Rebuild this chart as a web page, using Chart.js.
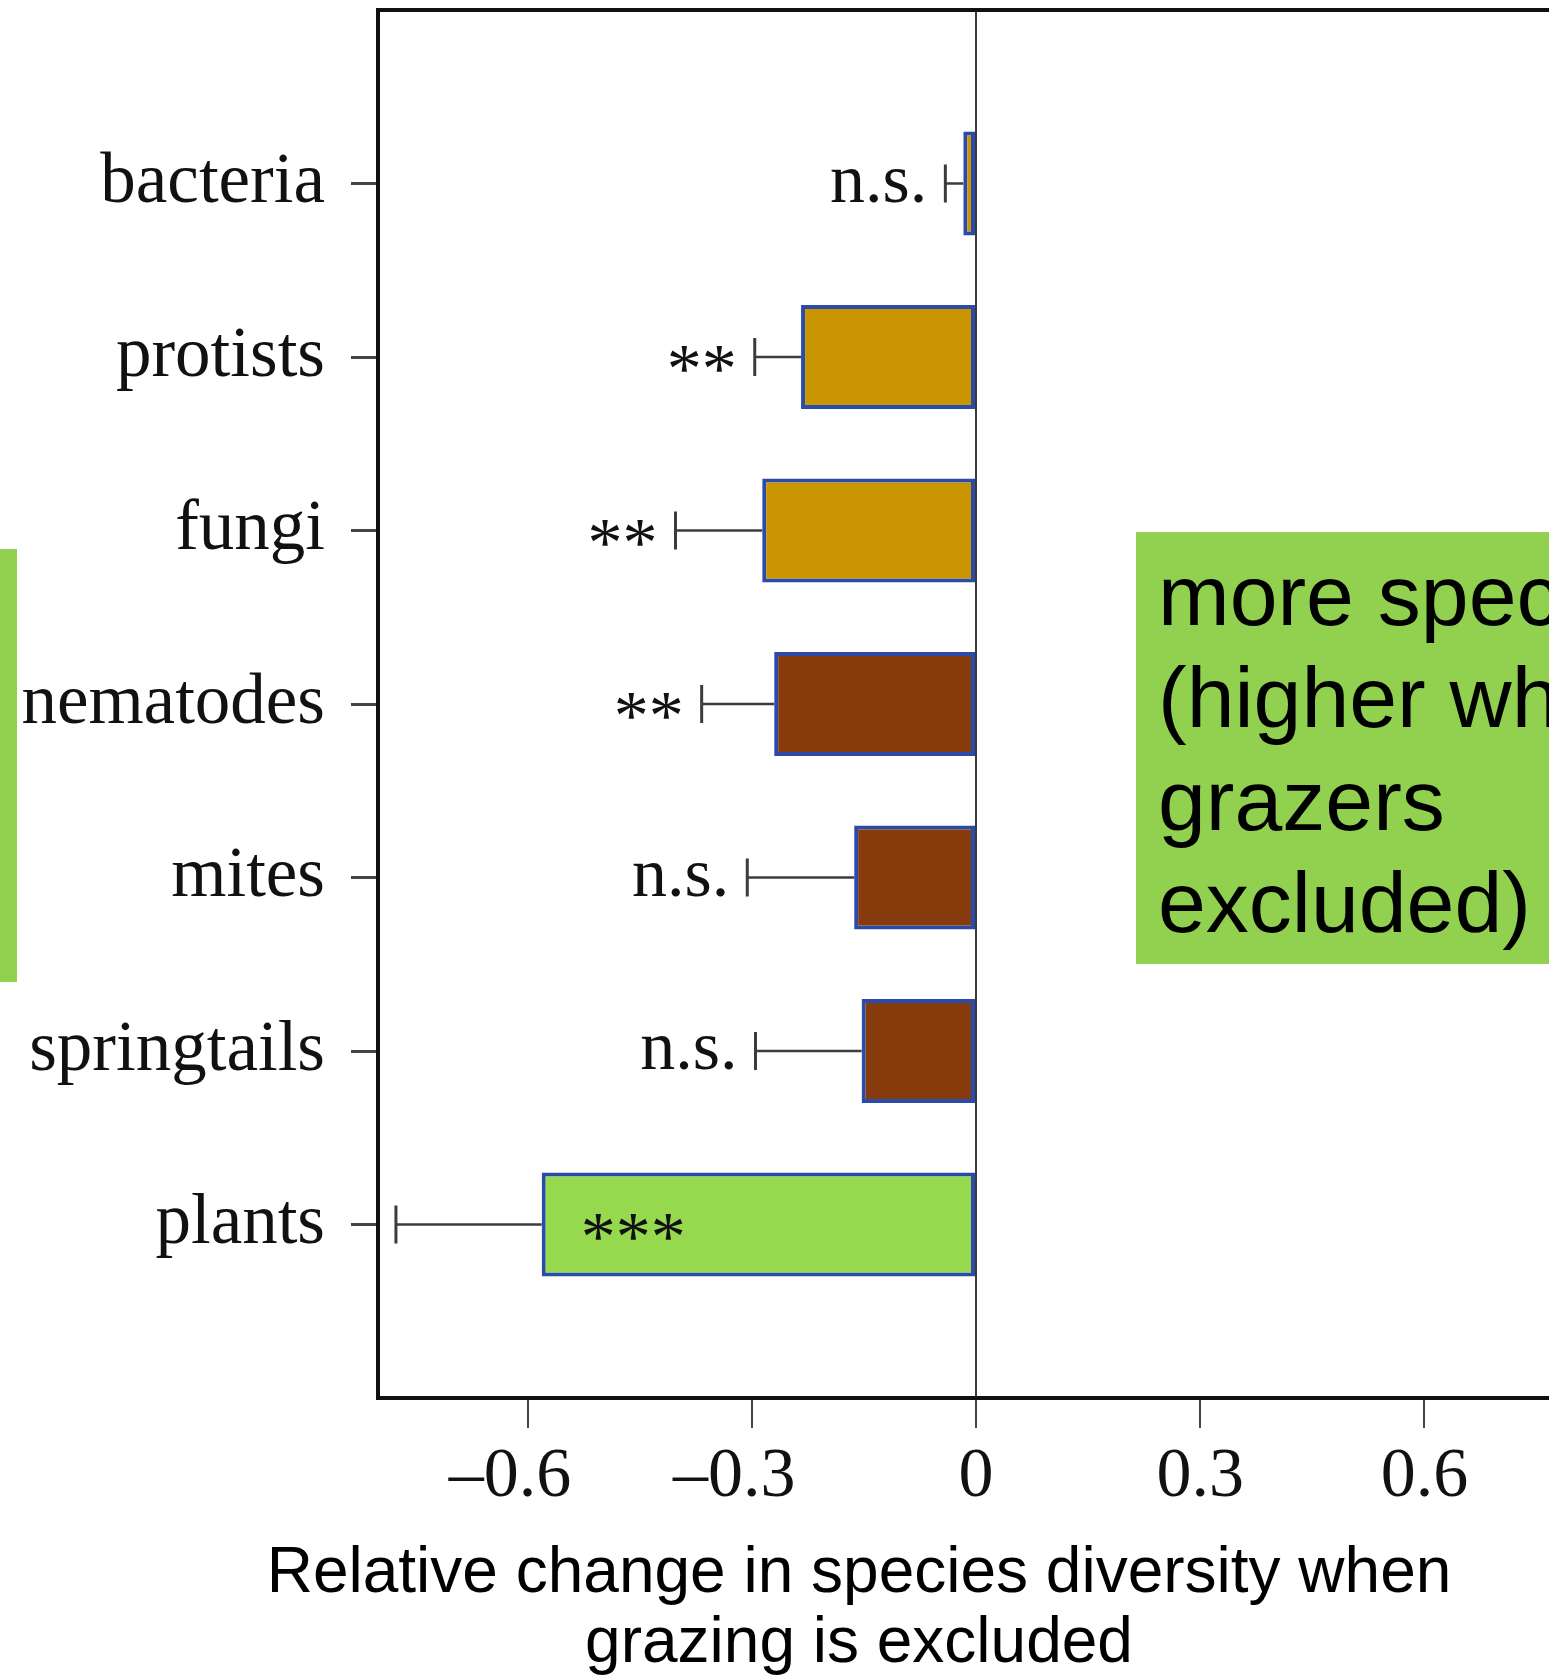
<!DOCTYPE html>
<html>
<head>
<meta charset="utf-8">
<title>Relative change in species diversity when grazing is excluded</title>
<script src="https://cdn.jsdelivr.net/npm/chart.js@4.4.1/dist/chart.umd.min.js"></script>
<style>
  html, body { margin: 0; padding: 0; background: #ffffff; overflow: hidden; }
  #wrap { position: relative; width: 1549px; height: 1677px; overflow: hidden; }
  canvas { display: block; }
</style>
</head>
<body>
<div id="wrap"><canvas id="chart" width="1600" height="1677" style="width:1600px;height:1677px"></canvas></div>
<script>
// Organism groups, top to bottom
const groups = ['bacteria', 'protists', 'fungi', 'nematodes', 'mites', 'springtails', 'plants'];
// Mean relative change in species diversity
const change = [-0.017, -0.234, -0.286, -0.270, -0.163, -0.153, -0.581];
// Error (drawn on the negative side only)
const errLow = [0.024, 0.062, 0.116, 0.097, 0.143, 0.142, 0.195];
// Significance marks
const signif = ['n.s.', '**', '**', '**', 'n.s.', 'n.s.', '***'];
// Bar fill per group: microbes gold, soil fauna brown, plants green
const barFill = ['#C99500', '#C99500', '#C99500', '#873A0B', '#873A0B', '#873A0B', '#96D94E'];
// Horizontal axis ticks (the minus sign hangs to the left of the number)
const xTickValues = [-0.6, -0.3, 0, 0.3, 0.6];
const xTickLabels = ['\u20130.6\u2002', '\u20130.3\u2002', '0', '0.3', '0.6'];
// Axis caption and side note
const axisTitle = ['Relative change in species diversity when', 'grazing is excluded'];
const noteLines = ['more species', '(higher when', 'grazers', 'excluded)'];

const SERIF = '"Liberation Serif", "Times New Roman", Times, serif';
const SANS = '"Liberation Sans", Arial, Helvetica, sans-serif';

// Error whiskers plus significance labels
const errorBars = {
  id: 'errorBars',
  afterDatasetsDraw(chart) {
    const { ctx, chartArea: a } = chart;
    const xs = chart.scales.x, ys = chart.scales.y;
    ctx.save();
    ctx.strokeStyle = '#3c3c3c';
    ctx.font = '70px ' + SERIF;
    ctx.textBaseline = 'alphabetic';
    change.forEach((v, i) => {
      const y = ys.getPixelForValue(i + 1);
      const x0 = xs.getPixelForValue(v);
      const x1 = xs.getPixelForValue(v - errLow[i]);
      ctx.lineWidth = 2.5;
      ctx.beginPath();
      ctx.moveTo(x0, y);
      ctx.lineTo(x1, y);
      ctx.stroke();
      ctx.lineWidth = 3;
      ctx.beginPath();
      ctx.moveTo(x1, y - 19);
      ctx.lineTo(x1, y + 19);
      ctx.stroke();

      const label = signif[i];
      const m = ctx.measureText(label);
      const by = y + (m.actualBoundingBoxAscent - m.actualBoundingBoxDescent) / 2 + 2;
      const rx = x1 - 18;
      ctx.fillStyle = '#111111';
      if (rx - m.width < a.left) {
        // no room left of the whisker: write inside the bar
        ctx.textAlign = 'left';
        ctx.fillText(label, x0 + 39, by);
      } else {
        ctx.textAlign = 'right';
        ctx.fillText(label, rx, by);
      }
    });
    ctx.restore();
  }
};

// Top frame line, axis caption and green note boxes
const decorations = {
  id: 'decorations',
  afterDraw(chart) {
    const { ctx, chartArea: a } = chart;
    ctx.save();
    ctx.strokeStyle = '#111111';
    ctx.lineWidth = 4;
    ctx.beginPath();
    ctx.moveTo(a.left - 2, a.top);
    ctx.lineTo(a.right, a.top);
    ctx.stroke();

    ctx.fillStyle = '#92D050';
    ctx.fillRect(0, 549, 17, 433);
    ctx.fillRect(1136, 532, 470, 432);

    ctx.fillStyle = '#000000';
    ctx.textBaseline = 'alphabetic';
    ctx.textAlign = 'left';
    ctx.font = '86px ' + SANS;
    noteLines.forEach((t, i) => ctx.fillText(t, 1158, 625 + i * 102.3));

    ctx.textAlign = 'center';
    ctx.font = '64px ' + SANS;
    axisTitle.forEach((t, i) => ctx.fillText(t, 859, 1592 + i * 70));
    ctx.restore();
  }
};

new Chart(document.getElementById('chart'), {
  type: 'bar',
  data: {
    datasets: [{
      data: groups.map((g, i) => ({ x: change[i], y: i + 1 })),
      backgroundColor: barFill,
      borderColor: '#2B4BAA',
      borderWidth: 4,
      borderSkipped: false,
      categoryPercentage: 0.8,
      barPercentage: 0.75
    }]
  },
  options: {
    indexAxis: 'y',
    responsive: false,
    animation: false,
    devicePixelRatio: 1,
    layout: { padding: { top: 10, right: 26, left: 0, bottom: 0 } },
    plugins: { legend: { display: false }, tooltip: { enabled: false } },
    scales: {
      x: {
        type: 'linear',
        position: 'bottom',
        min: -0.8,
        max: 0.8,
        afterBuildTicks: s => { s.ticks = xTickValues.map(v => ({ value: v })); },
        afterFit: s => { s.height = 279; s.paddingLeft = 0; s.paddingRight = 0; },
        ticks: {
          callback: (v, idx) => xTickLabels[idx],
          font: { family: SERIF, size: 70 },
          color: '#111111',
          padding: 8,
          maxRotation: 0,
          autoSkip: false
        },
        grid: {
          color: c => (c.tick && c.tick.value === 0) ? '#3a3a3a' : 'rgba(0,0,0,0)',
          lineWidth: 2,
          tickColor: '#444444',
          tickLength: 30,
          tickWidth: 2,
          drawOnChartArea: true
        },
        border: { display: true, color: '#111111', width: 4 }
      },
      y: {
        type: 'linear',
        reverse: true,
        offset: false,
        min: 0,
        max: 8,
        afterBuildTicks: s => { s.ticks = groups.map((g, i) => ({ value: i + 1 })); },
        afterFit: s => { s.width = 378; s.paddingTop = 0; s.paddingBottom = 0; },
        ticks: {
          callback: v => groups[v - 1],
          font: { family: SERIF, size: 71 },
          color: '#111111',
          padding: 26,
          autoSkip: false
        },
        grid: {
          offset: false,
          drawOnChartArea: false,
          tickColor: '#444444',
          tickLength: 27,
          tickWidth: 3
        },
        border: { display: true, color: '#111111', width: 4 }
      }
    }
  },
  plugins: [errorBars, decorations]
});
</script>
</body>
</html>
